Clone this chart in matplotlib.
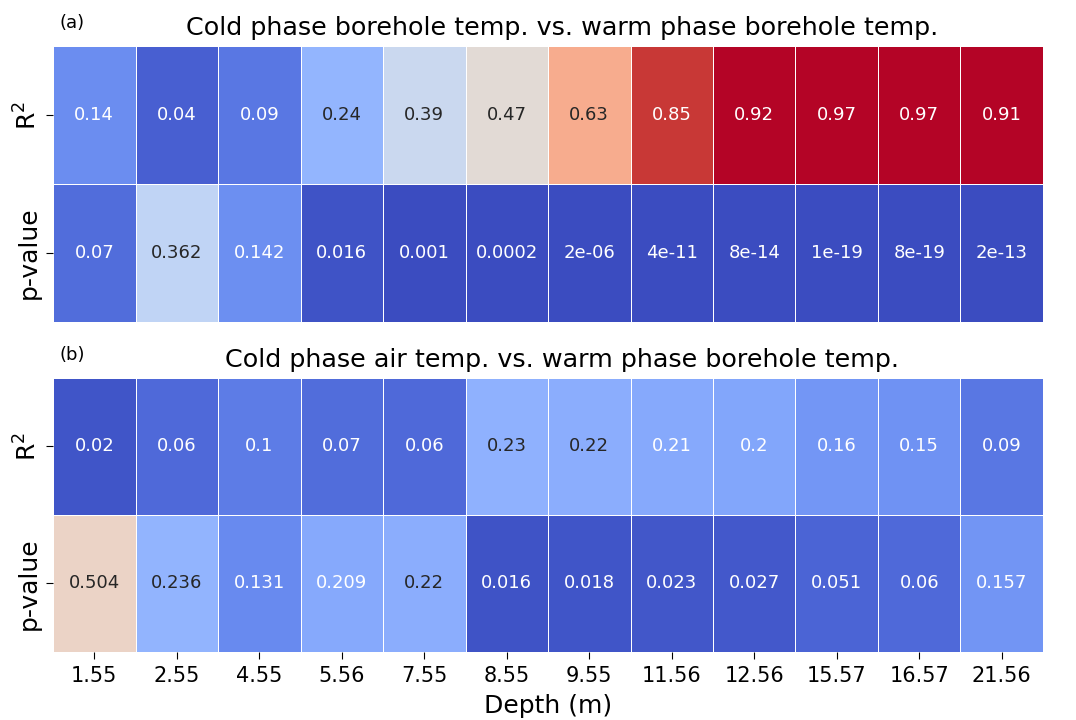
import matplotlib
matplotlib.use("Agg")
import matplotlib.pyplot as plt
import numpy as np
import seaborn as sns

depths = ["1.55", "2.55", "4.55", "5.56", "7.55", "8.55", "9.55", "11.56", "12.56", "15.57", "16.57", "21.56"]
rows = ["R$^2$", "p-value"]

a_r2 = [0.14, 0.04, 0.09, 0.24, 0.39, 0.47, 0.63, 0.85, 0.92, 0.97, 0.97, 0.91]
a_p_labels = ["0.07", "0.362", "0.142", "0.016", "0.001", "0.0002", "2e-06", "4e-11", "8e-14", "1e-19", "8e-19", "2e-13"]
b_r2 = [0.02, 0.06, 0.1, 0.07, 0.06, 0.23, 0.22, 0.21, 0.2, 0.16, 0.15, 0.09]
b_p_labels = ["0.504", "0.236", "0.131", "0.209", "0.22", "0.016", "0.018", "0.023", "0.027", "0.051", "0.06", "0.157"]

titles = ["Cold phase borehole temp. vs. warm phase borehole temp.",
          "Cold phase air temp. vs. warm phase borehole temp."]
panel_labels = ["(a)", "(b)"]

fig = plt.figure(figsize=(10.76, 7.2), dpi=100)
axes = [fig.add_axes([0.0493, 0.553, 0.920, 0.383]),
        fig.add_axes([0.0493, 0.0944, 0.920, 0.381])]

for ax, r2, plab, title, pl in zip(axes, [a_r2, b_r2], [a_p_labels, b_p_labels], titles, panel_labels):
    pvals = [float(s) for s in plab]
    data = np.array([r2, pvals])
    annot = np.array([[f"{v:g}" for v in r2], plab])
    sns.heatmap(data, ax=ax, cmap="coolwarm", vmin=0, vmax=0.9, annot=annot, fmt="",
                cbar=False, linewidths=0.6, linecolor="white",
                annot_kws={"fontsize": 13})
    ax.set_title(title, fontsize=18.3, pad=8, x=0.514)
    ax.text(0.007, 1.05, pl, transform=ax.transAxes, fontsize=13, ha="left", va="bottom")
    ax.set_yticks([0.5, 1.5])
    ax.set_yticklabels(rows, fontsize=18, rotation=90, va="center")
    ax.set_xticks(np.arange(len(depths)) + 0.5)
    ax.tick_params(axis="y", length=5)

axes[0].set_xticklabels([])
axes[0].tick_params(axis="x", length=0)
axes[1].set_xticklabels(depths, fontsize=15, rotation=0)
axes[1].tick_params(axis="x", length=5, pad=5)
axes[1].set_xlabel("Depth (m)", fontsize=18, labelpad=6)

fig.savefig("out.png", dpi=100)
